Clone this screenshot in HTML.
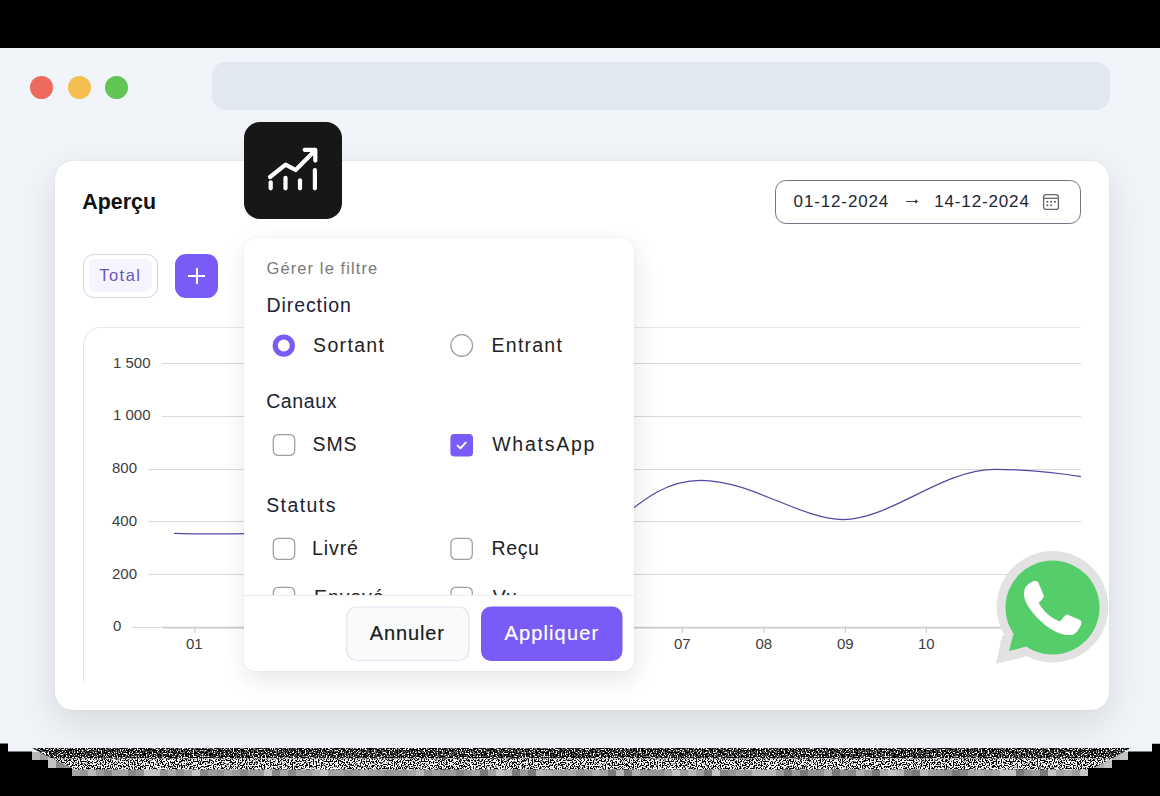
<!DOCTYPE html>
<html><head><meta charset="utf-8">
<style>
*{margin:0;padding:0;box-sizing:border-box}
html,body{width:1160px;height:796px;overflow:hidden;background:#f1f4f8;font-family:"Liberation Sans",sans-serif;position:relative}
.abs{position:absolute}
#topbar{left:0;top:0;width:1160px;height:48px;background:#000}
.dot{width:23px;height:23px;border-radius:50%;top:76px}
#url{left:212px;top:62px;width:898px;height:48px;border-radius:14px;background:#e2e8f0}
#card{left:55px;top:161px;width:1054px;height:549px;background:#fff;border-radius:18px;box-shadow:0 14px 40px rgba(20,22,28,.12),0 0 1.5px rgba(20,30,50,.10)}
.t{position:absolute;white-space:nowrap;line-height:1}
#iconbox{left:244px;top:122px;width:98px;height:97px;border-radius:16px;background:#171717}
#popup{left:244px;top:238px;width:390px;height:433px;background:#fff;border-radius:12px;box-shadow:2px 8px 24px rgba(20,25,35,.11),0 0 2px rgba(20,30,50,.08);overflow:hidden}
</style></head><body>
<div id="topbar" class="abs"></div>
<div class="abs dot" style="left:30px;background:#ee6a5f"></div>
<div class="abs dot" style="left:68px;background:#f4bf4f"></div>
<div class="abs dot" style="left:105px;background:#61c554"></div>
<div id="url" class="abs"></div>

<div id="card" class="abs"></div>

<div class="t" style="left:82.3px;top:192px;font-size:21.4px;font-weight:700;color:#111">Aperçu</div>

<!-- date picker -->
<div class="abs" style="left:775.4px;top:179.6px;width:305.8px;height:44.8px;border:1.6px solid #727986;border-radius:11px"></div>
<div class="t" style="left:793.6px;top:193.4px;font-size:17px;letter-spacing:0.86px;color:#1f2633">01-12-2024</div>
<svg class="abs" style="left:900px;top:194px" width="24" height="16" viewBox="900 194 24 16">
 <line x1="906" y1="201.5" x2="916" y2="201.5" stroke="#3a3f4a" stroke-width="1"/>
 <path d="M915.3,199.3 L918.1,201.5 L915.3,203.7 Z" fill="#2a2f3a"/>
</svg>
<div class="t" style="left:934.2px;top:193.4px;font-size:17px;letter-spacing:0.86px;color:#1f2633">14-12-2024</div>
<svg class="abs" style="left:1042px;top:193px" width="18" height="18" viewBox="0 0 18 18">
 <rect x="1.6" y="1.6" width="14.8" height="14.8" rx="2.5" fill="none" stroke="#686868" stroke-width="1.3"/>
 <line x1="1.6" y1="5.3" x2="16.4" y2="5.3" stroke="#686868" stroke-width="1.3"/>
 <circle cx="5.3" cy="8.7" r="1.05" fill="#686868"/><circle cx="9.1" cy="8.7" r="1.05" fill="#686868"/><circle cx="13" cy="8.7" r="1.05" fill="#686868"/>
 <circle cx="5.3" cy="12.3" r="1.05" fill="#686868"/><circle cx="9.1" cy="12.3" r="1.05" fill="#686868"/>
</svg>

<!-- Total chip -->
<div class="abs" style="left:83px;top:254px;width:75px;height:43.5px;border:1.6px solid #cdd5e0;border-radius:11px"></div>
<div class="abs" style="left:89px;top:259px;width:63px;height:33px;background:#f6f4fe;border-radius:6px"></div>
<div class="t" style="left:99.3px;top:266.6px;font-size:16.5px;letter-spacing:1.45px;color:#6858b4">Total</div>
<!-- plus btn -->
<div class="abs" style="left:174.6px;top:253.8px;width:43.6px;height:44px;background:#7b5bf7;border-radius:11px"></div>
<div class="abs" style="left:188px;top:275px;width:17px;height:2px;background:#fff"></div>
<div class="abs" style="left:195.5px;top:268px;width:2px;height:16px;background:#fff"></div>

<!-- chart -->
<div class="abs" style="left:83px;top:327px;width:998px;height:356px;border-top:1px solid #e5e6ee;border-left:1px solid #e5e6ee;border-top-left-radius:18px"></div>
<svg class="abs" style="left:0;top:0" width="1160" height="796">
 <g stroke="#d9d9d9" stroke-width="1">
  <line x1="162" y1="363.5" x2="1081" y2="363.5"/>
  <line x1="162" y1="416.5" x2="1081" y2="416.5"/>
  <line x1="148.5" y1="469.5" x2="1081" y2="469.5"/>
  <line x1="148.5" y1="521.5" x2="1081" y2="521.5"/>
  <line x1="148.5" y1="574.5" x2="1081" y2="574.5"/>
  <line x1="132" y1="627.5" x2="1081" y2="627.5"/>
 </g>
 <line x1="163" y1="627.6" x2="1081" y2="627.6" stroke="#cbcbcb" stroke-width="1.6"/>
 <g stroke="#c8c8c8" stroke-width="1">
  <line x1="194.8" y1="628" x2="194.8" y2="633"/>
  <line x1="682.4" y1="628" x2="682.4" y2="633"/>
  <line x1="764" y1="628" x2="764" y2="633"/>
  <line x1="845.4" y1="628" x2="845.4" y2="633"/>
  <line x1="926.3" y1="628" x2="926.3" y2="633"/>
  <line x1="1007.8" y1="628" x2="1007.8" y2="633"/>
 </g>
 <path d="M174 533.3 C200 534.3 225 534.3 262 533.2" fill="none" stroke="#5548a2" stroke-width="1.25"/>
 <path d="M590 545 C650 490 672 480.3 701 480.3 C750 480.3 802 519.6 843 519.6 C890 519.6 942 469.4 995 469.4 C1030 469.4 1060 473 1081 476.7" fill="none" stroke="#5548a2" stroke-width="1.25"/>
 <g font-family="Liberation Sans" font-size="15" fill="#3d3d3d">
  <text x="113" y="367.6">1 500</text>
  <text x="113" y="420">1 000</text>
  <text x="112" y="472.8">800</text>
  <text x="112" y="526">400</text>
  <text x="112" y="579">200</text>
  <text x="113" y="631">0</text>
  <text x="186" y="649.4">01</text>
  <text x="674" y="649.4">07</text>
  <text x="755.5" y="649.4">08</text>
  <text x="837" y="649.4">09</text>
  <text x="918" y="649.4">10</text>
  <text x="999.5" y="649.4">11</text>
 </g>
</svg>

<!-- icon box -->
<div id="iconbox" class="abs"></div>
<svg class="abs" style="left:244px;top:122px" width="98" height="97" viewBox="244 122 98 97">
 <g stroke="#fff" stroke-width="4.2" stroke-linecap="round" stroke-linejoin="round" fill="none">
  <polyline points="270,177 285.6,164.6 295.6,170 314.5,151"/>
  <polyline points="304.6,149.8 315.3,149.8 315.3,160.6"/>
  <line x1="270.7" y1="182.3" x2="270.7" y2="188.3"/>
  <line x1="285.5" y1="177.8" x2="285.5" y2="188.3"/>
  <line x1="300" y1="180.3" x2="300" y2="188.3"/>
  <line x1="314.9" y1="170.2" x2="314.9" y2="188.3"/>
 </g>
</svg>

<!-- popup -->
<div id="popup" class="abs">
<svg class="abs" style="left:0;top:0" width="390" height="433" viewBox="244 238 390 433">
 <g font-family="Liberation Sans">
  <text x="266.5" y="274.4" font-size="16.5" letter-spacing="1.1" fill="#7a7a7a">Gérer le filtre</text>
  <g font-size="19.5" letter-spacing="0.9" fill="#1b2236">
   <text x="266.6" y="312.3">Direction</text>
   <text x="266.2" y="408" letter-spacing="0.6">Canaux</text>
   <text x="266.2" y="511.7" letter-spacing="1.42">Statuts</text>
  </g>
  <g font-size="19.5" letter-spacing="0.9" fill="#222">
   <text x="313.1" y="351.5" letter-spacing="1.32">Sortant</text>
   <text x="491.6" y="352" letter-spacing="1.23">Entrant</text>
   <text x="312.5" y="451.4">SMS</text>
   <text x="492.2" y="451.4" letter-spacing="1.76">WhatsApp</text>
   <text x="312" y="555">Livré</text>
   <text x="491.6" y="555" letter-spacing="0.6">Reçu</text>
   <text x="314" y="604">Envoyé</text>
   <text x="492.8" y="604">Vu</text>
  </g>
 </g>
 <circle cx="283.8" cy="345.6" r="8.6" fill="none" stroke="#7b5bf7" stroke-width="5.2"/>
 <circle cx="461.7" cy="345.5" r="10.8" fill="none" stroke="#9b9b9b" stroke-width="1.2"/>
 <g fill="none" stroke="#a0a0a0" stroke-width="1.3">
  <rect x="273.3" y="434.65" width="21.4" height="20.8" rx="4.8"/>
  <rect x="273.3" y="538.4" width="21.4" height="21" rx="4.8"/>
  <rect x="450.9" y="538.4" width="21.4" height="21" rx="4.8"/>
  <rect x="273.3" y="587.4" width="21.4" height="21" rx="4.8"/>
  <rect x="450.9" y="587.4" width="21.4" height="21" rx="4.8"/>
 </g>
 <rect x="450.4" y="434" width="22.6" height="22.4" rx="4" fill="#7b5bf7"/>
 <polyline points="457.6,445.6 460.4,448.3 465.6,442.6" fill="none" stroke="#fff" stroke-width="2" stroke-linecap="round" stroke-linejoin="round"/>
 <rect x="244" y="595" width="390" height="80" fill="#fff"/>
 <line x1="244" y1="595.5" x2="634" y2="595.5" stroke="#ececf0" stroke-width="1"/>
 <rect x="346.8" y="607" width="122.2" height="53.5" rx="10" fill="#f8fafc" stroke="#dfe4ee" stroke-width="1.2"/>
 <rect x="481" y="606.5" width="141.5" height="54.5" rx="10" fill="#7b5bf7"/>
 <g font-family="Liberation Sans" font-size="20" letter-spacing="0.9">
  <text x="369.7" y="640.3" fill="#1a1a1a" stroke="#1a1a1a" stroke-width="0.18">Annuler</text>
  <text x="504.4" y="640.3" fill="#fff" stroke="#fff" stroke-width="0.18" letter-spacing="1.15">Appliquer</text>
 </g>
</svg>
</div>

<!-- whatsapp -->
<svg class="abs" style="left:0;top:0" width="1160" height="796">
 <path d="M996.7,606.8 A55.8,55.8 0 1 0 1108.3,606.8 A55.8,55.8 0 1 0 996.7,606.8 Z M1002.2,636 L995.8,664 L1026,656.5 L1052,607 Z" fill="#e2e2e2" fill-rule="nonzero"/>
 <path d="M1005.5,607.6 A47,47 0 1 0 1099.5,607.6 A47,47 0 1 0 1005.5,607.6 Z M1013.2,635 L1009,651 L1028,646 L1052,607 Z" fill="#54cd6a" fill-rule="nonzero"/>
 <path d="M1033.8,581.1 C1036,581 1037.5,581.5 1038.3,582.5 L1043.7,595.4 C1044,597 1043,598.5 1038.6,603 C1044,612 1052,619 1060.2,621.4 C1063,618 1064.5,615.5 1066.8,614.3 L1080,620 C1082,621.5 1081.5,624 1080.5,626 C1078,631 1075,634.5 1071.5,635 C1058,636 1044,626 1033.9,614 C1027,606 1023,598 1024.2,592 C1024.5,588 1026,584.5 1033.8,581.1 Z" fill="#fff"/>
</svg>

<!-- bottom -->
<svg class="abs" style="left:0;top:0" width="1160" height="796">
 <defs>
  <filter id="nzd" x="0" y="0" width="100%" height="100%" filterUnits="userSpaceOnUse" color-interpolation-filters="sRGB">
   <feTurbulence type="fractalNoise" baseFrequency="0.75" numOctaves="1" seed="4" result="t"/>
   <feColorMatrix type="matrix" values="1 0 0 0 0  1 0 0 0 0  1 0 0 0 0  0 0 0 0 1"/>
   <feComponentTransfer><feFuncR type="linear" slope="5" intercept="-2.3"/><feFuncG type="linear" slope="5" intercept="-2.3"/><feFuncB type="linear" slope="5" intercept="-2.3"/></feComponentTransfer><feComponentTransfer><feFuncR type="discrete" tableValues="0 0.22 0.4 0.55 1"/><feFuncG type="discrete" tableValues="0 0.22 0.4 0.55 1"/><feFuncB type="discrete" tableValues="0 0.22 0.4 0.55 1"/></feComponentTransfer>
  </filter>
  <filter id="nzl" x="0" y="0" width="100%" height="100%" filterUnits="userSpaceOnUse" color-interpolation-filters="sRGB">
   <feTurbulence type="fractalNoise" baseFrequency="0.75" numOctaves="1" seed="9" result="t"/>
   <feColorMatrix type="matrix" values="1 0 0 0 0  1 0 0 0 0  1 0 0 0 0  0 0 0 0 1"/>
   <feComponentTransfer><feFuncR type="linear" slope="14" intercept="-6.3"/><feFuncG type="linear" slope="14" intercept="-6.3"/><feFuncB type="linear" slope="14" intercept="-6.3"/></feComponentTransfer>
  </filter>
  <clipPath id="cpd"><polygon points="32,748 1131,748 1112,758.5 52,758.5"/></clipPath>
  <clipPath id="cpl"><polygon points="52,758.5 1112,758.5 1090,769.5 75,769.5"/></clipPath>
 </defs>
 <rect x="32" y="752" width="8" height="8" fill="#b8b8b8"/>
 <rect x="40" y="752" width="8" height="8" fill="#a0a0a0"/>
 <rect x="48" y="756" width="8" height="12" fill="#c4c4c4"/>
 <rect x="56" y="757" width="8" height="11" fill="#888888"/>
 <rect x="64" y="758" width="8" height="10" fill="#959595"/>
 <rect x="72" y="769" width="8" height="7" fill="#a4a4a4"/>
 <rect x="80" y="769" width="8" height="7" fill="#959595"/>
 <rect x="88" y="769" width="8" height="7" fill="#b8b8b8"/>
 <rect x="96" y="769" width="8" height="7" fill="#9c9c9c"/>
 <rect x="104" y="769" width="8" height="7" fill="#888888"/>
 <rect x="112" y="769" width="8" height="7" fill="#a4a4a4"/>
 <rect x="120" y="769" width="8" height="7" fill="#a8a8a8"/>
 <rect x="128" y="769" width="8" height="7" fill="#888888"/>
 <rect x="136" y="769" width="8" height="7" fill="#959595"/>
 <rect x="144" y="769" width="8" height="7" fill="#c4c4c4"/>
 <rect x="152" y="769" width="8" height="7" fill="#c4c4c4"/>
 <rect x="160" y="769" width="8" height="7" fill="#959595"/>
 <rect x="168" y="769" width="8" height="7" fill="#a8a8a8"/>
 <rect x="176" y="769" width="8" height="7" fill="#959595"/>
 <rect x="184" y="769" width="8" height="7" fill="#a4a4a4"/>
 <rect x="192" y="769" width="8" height="7" fill="#c4c4c4"/>
 <rect x="200" y="769" width="8" height="7" fill="#888888"/>
 <rect x="208" y="769" width="8" height="7" fill="#9c9c9c"/>
 <rect x="216" y="769" width="8" height="7" fill="#959595"/>
 <rect x="224" y="769" width="8" height="7" fill="#a8a8a8"/>
 <rect x="232" y="769" width="8" height="7" fill="#9c9c9c"/>
 <rect x="240" y="769" width="8" height="7" fill="#888888"/>
 <rect x="248" y="769" width="8" height="7" fill="#9c9c9c"/>
 <rect x="256" y="769" width="8" height="7" fill="#9c9c9c"/>
 <rect x="264" y="769" width="8" height="7" fill="#c4c4c4"/>
 <rect x="272" y="769" width="8" height="7" fill="#888888"/>
 <rect x="280" y="769" width="8" height="7" fill="#a8a8a8"/>
 <rect x="288" y="769" width="8" height="7" fill="#888888"/>
 <rect x="296" y="769" width="8" height="7" fill="#a4a4a4"/>
 <rect x="304" y="769" width="8" height="7" fill="#a0a0a0"/>
 <rect x="312" y="769" width="8" height="7" fill="#b0b0b0"/>
 <rect x="320" y="769" width="8" height="7" fill="#c4c4c4"/>
 <rect x="328" y="769" width="8" height="7" fill="#a0a0a0"/>
 <rect x="336" y="769" width="8" height="7" fill="#a4a4a4"/>
 <rect x="344" y="769" width="8" height="7" fill="#959595"/>
 <rect x="352" y="769" width="8" height="7" fill="#9c9c9c"/>
 <rect x="360" y="769" width="8" height="7" fill="#b0b0b0"/>
 <rect x="368" y="769" width="8" height="7" fill="#a4a4a4"/>
 <rect x="376" y="769" width="8" height="7" fill="#a0a0a0"/>
 <rect x="384" y="769" width="8" height="7" fill="#959595"/>
 <rect x="392" y="769" width="8" height="7" fill="#9c9c9c"/>
 <rect x="400" y="769" width="8" height="7" fill="#9c9c9c"/>
 <rect x="408" y="769" width="8" height="7" fill="#a8a8a8"/>
 <rect x="416" y="769" width="8" height="7" fill="#b8b8b8"/>
 <rect x="424" y="769" width="8" height="7" fill="#959595"/>
 <rect x="432" y="769" width="8" height="7" fill="#a4a4a4"/>
 <rect x="440" y="769" width="8" height="7" fill="#959595"/>
 <rect x="448" y="769" width="8" height="7" fill="#9c9c9c"/>
 <rect x="456" y="769" width="8" height="7" fill="#888888"/>
 <rect x="464" y="769" width="8" height="7" fill="#9c9c9c"/>
 <rect x="472" y="769" width="8" height="7" fill="#a8a8a8"/>
 <rect x="480" y="769" width="8" height="7" fill="#7a7a7a"/>
 <rect x="488" y="769" width="8" height="7" fill="#a4a4a4"/>
 <rect x="496" y="769" width="8" height="7" fill="#c4c4c4"/>
 <rect x="504" y="769" width="8" height="7" fill="#b8b8b8"/>
 <rect x="512" y="769" width="8" height="7" fill="#7a7a7a"/>
 <rect x="520" y="769" width="8" height="7" fill="#9c9c9c"/>
 <rect x="528" y="769" width="8" height="7" fill="#7a7a7a"/>
 <rect x="536" y="769" width="8" height="7" fill="#b8b8b8"/>
 <rect x="544" y="769" width="8" height="7" fill="#b0b0b0"/>
 <rect x="552" y="769" width="8" height="7" fill="#a8a8a8"/>
 <rect x="560" y="769" width="8" height="7" fill="#a0a0a0"/>
 <rect x="568" y="769" width="8" height="7" fill="#a8a8a8"/>
 <rect x="576" y="769" width="8" height="7" fill="#959595"/>
 <rect x="584" y="769" width="8" height="7" fill="#9c9c9c"/>
 <rect x="592" y="769" width="8" height="7" fill="#b0b0b0"/>
 <rect x="600" y="769" width="8" height="7" fill="#a4a4a4"/>
 <rect x="608" y="769" width="8" height="7" fill="#7a7a7a"/>
 <rect x="616" y="769" width="8" height="7" fill="#b8b8b8"/>
 <rect x="624" y="769" width="8" height="7" fill="#7a7a7a"/>
 <rect x="632" y="769" width="8" height="7" fill="#b0b0b0"/>
 <rect x="640" y="769" width="8" height="7" fill="#9c9c9c"/>
 <rect x="648" y="769" width="8" height="7" fill="#959595"/>
 <rect x="656" y="769" width="8" height="7" fill="#959595"/>
 <rect x="664" y="769" width="8" height="7" fill="#a4a4a4"/>
 <rect x="672" y="769" width="8" height="7" fill="#c4c4c4"/>
 <rect x="680" y="769" width="8" height="7" fill="#a0a0a0"/>
 <rect x="688" y="769" width="8" height="7" fill="#b8b8b8"/>
 <rect x="696" y="769" width="8" height="7" fill="#a0a0a0"/>
 <rect x="704" y="769" width="8" height="7" fill="#7a7a7a"/>
 <rect x="712" y="769" width="8" height="7" fill="#c4c4c4"/>
 <rect x="720" y="769" width="8" height="7" fill="#888888"/>
 <rect x="728" y="769" width="8" height="7" fill="#959595"/>
 <rect x="736" y="769" width="8" height="7" fill="#a4a4a4"/>
 <rect x="744" y="769" width="8" height="7" fill="#9c9c9c"/>
 <rect x="752" y="769" width="8" height="7" fill="#b8b8b8"/>
 <rect x="760" y="769" width="8" height="7" fill="#b8b8b8"/>
 <rect x="768" y="769" width="8" height="7" fill="#b8b8b8"/>
 <rect x="776" y="769" width="8" height="7" fill="#9c9c9c"/>
 <rect x="784" y="769" width="8" height="7" fill="#7a7a7a"/>
 <rect x="792" y="769" width="8" height="7" fill="#9c9c9c"/>
 <rect x="800" y="769" width="8" height="7" fill="#7a7a7a"/>
 <rect x="808" y="769" width="8" height="7" fill="#959595"/>
 <rect x="816" y="769" width="8" height="7" fill="#959595"/>
 <rect x="824" y="769" width="8" height="7" fill="#b0b0b0"/>
 <rect x="832" y="769" width="8" height="7" fill="#7a7a7a"/>
 <rect x="840" y="769" width="8" height="7" fill="#959595"/>
 <rect x="848" y="769" width="8" height="7" fill="#888888"/>
 <rect x="856" y="769" width="8" height="7" fill="#b0b0b0"/>
 <rect x="864" y="769" width="8" height="7" fill="#9c9c9c"/>
 <rect x="872" y="769" width="8" height="7" fill="#7a7a7a"/>
 <rect x="880" y="769" width="8" height="7" fill="#b0b0b0"/>
 <rect x="888" y="769" width="8" height="7" fill="#c4c4c4"/>
 <rect x="896" y="769" width="8" height="7" fill="#b8b8b8"/>
 <rect x="904" y="769" width="8" height="7" fill="#888888"/>
 <rect x="912" y="769" width="8" height="7" fill="#7a7a7a"/>
 <rect x="920" y="769" width="8" height="7" fill="#b8b8b8"/>
 <rect x="928" y="769" width="8" height="7" fill="#a0a0a0"/>
 <rect x="936" y="769" width="8" height="7" fill="#9c9c9c"/>
 <rect x="944" y="769" width="8" height="7" fill="#959595"/>
 <rect x="952" y="769" width="8" height="7" fill="#7a7a7a"/>
 <rect x="960" y="769" width="8" height="7" fill="#888888"/>
 <rect x="968" y="769" width="8" height="7" fill="#a8a8a8"/>
 <rect x="976" y="769" width="8" height="7" fill="#b0b0b0"/>
 <rect x="984" y="769" width="8" height="7" fill="#a0a0a0"/>
 <rect x="992" y="769" width="8" height="7" fill="#a8a8a8"/>
 <rect x="1000" y="769" width="8" height="7" fill="#c4c4c4"/>
 <rect x="1008" y="769" width="8" height="7" fill="#c4c4c4"/>
 <rect x="1016" y="769" width="8" height="7" fill="#7a7a7a"/>
 <rect x="1024" y="769" width="8" height="7" fill="#959595"/>
 <rect x="1032" y="769" width="8" height="7" fill="#a0a0a0"/>
 <rect x="1040" y="769" width="8" height="7" fill="#7a7a7a"/>
 <rect x="1048" y="769" width="8" height="7" fill="#c4c4c4"/>
 <rect x="1056" y="769" width="8" height="7" fill="#a4a4a4"/>
 <rect x="1064" y="769" width="8" height="7" fill="#b0b0b0"/>
 <rect x="1072" y="769" width="8" height="7" fill="#a0a0a0"/>
 <rect x="1080" y="769" width="8" height="7" fill="#c4c4c4"/>
 <rect x="1088" y="760" width="8" height="8" fill="#a4a4a4"/>
 <rect x="1096" y="760" width="8" height="8" fill="#b0b0b0"/>
 <rect x="1104" y="760" width="8" height="8" fill="#c4c4c4"/>
 <rect x="1112" y="752" width="8" height="8" fill="#b8b8b8"/>
 <rect x="1120" y="752" width="8" height="8" fill="#c4c4c4"/>
 <g clip-path="url(#cpd)"><rect x="0" y="740" width="1160" height="40" filter="url(#nzd)"/></g>
 <g clip-path="url(#cpl)"><rect x="0" y="740" width="1160" height="40" filter="url(#nzl)"/></g>
 <polygon points="0,743.5 8,743.5 8,751.5 32,751.5 32,760 48,760 48,768 72,768 72,776 1088,776 1088,768 1112,768 1112,760 1128,760 1128,751.5 1152,751.5 1152,743.8 1160,743.8 1160,796 0,796" fill="#000"/>
</svg>
</body></html>
